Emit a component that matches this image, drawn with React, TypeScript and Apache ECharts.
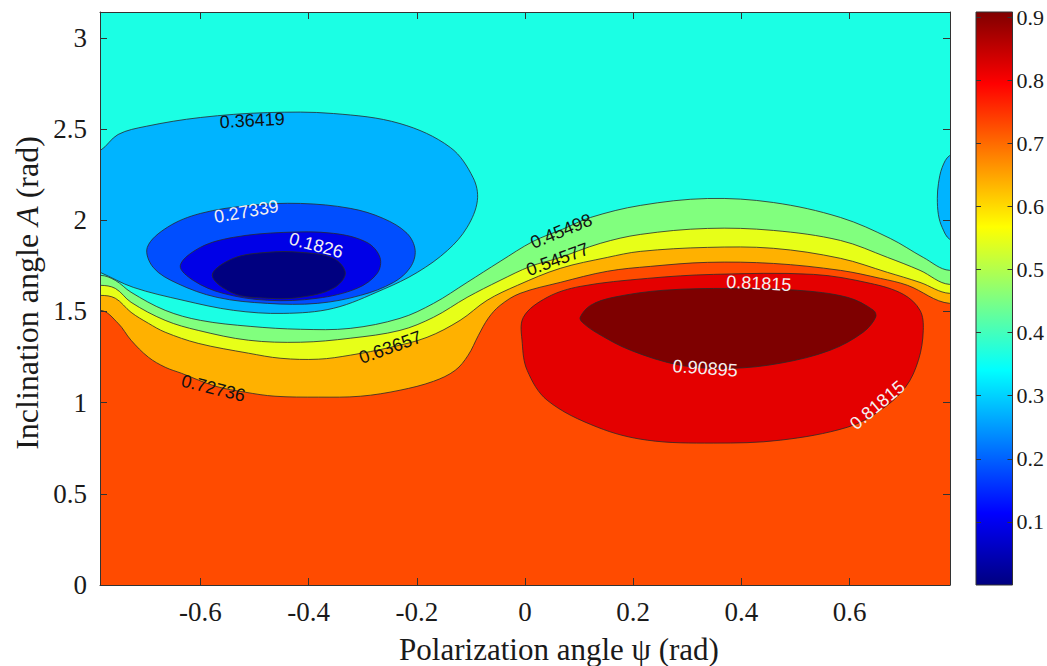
import { useEffect, useRef } from "react";
import * as echarts from "echarts";

// ---- axes ----
const PSI_MIN = -Math.PI / 4;
const PSI_MAX = Math.PI / 4;
const INC_MIN = 0;
const INC_MAX = Math.PI;
const psiTicks = [-0.6, -0.4, -0.2, 0, 0.2, 0.4, 0.6];
const incTicks = [0, 0.5, 1, 1.5, 2, 2.5, 3];
const colorbarTicks = [0.1, 0.2, 0.3, 0.4, 0.5, 0.6, 0.7, 0.8, 0.9];
const colorMin = 0;
const colorMax = 0.908;

// ---- contour levels ----
const levels = [0, 0.0918, 0.1826, 0.27339, 0.36419, 0.45498, 0.54577, 0.63657, 0.72736, 0.81815, 0.90895];

// ---- contour lines spanning the plot, [psi, inclination] ----
const line72736 = [[-0.785,1.506],[-0.752,1.435],[-0.728,1.342],[-0.696,1.249],[-0.665,1.194],[-0.635,1.161],[-0.572,1.090],[-0.517,1.057],[-0.462,1.035],[-0.382,1.030],[-0.304,1.035],[-0.231,1.068],[-0.169,1.117],[-0.129,1.177],[-0.105,1.260],[-0.086,1.369],[-0.068,1.462],[-0.046,1.533],[-0.009,1.599],[0.065,1.659],[0.152,1.720],[0.232,1.747],[0.337,1.769],[0.459,1.763],[0.583,1.725],[0.657,1.681],[0.707,1.643],[0.785,1.544]];
const line63657 = [[-0.785,1.588],[-0.757,1.572],[-0.728,1.495],[-0.696,1.435],[-0.665,1.386],[-0.604,1.325],[-0.511,1.271],[-0.451,1.243],[-0.382,1.238],[-0.323,1.260],[-0.249,1.303],[-0.181,1.358],[-0.120,1.451],[-0.070,1.561],[-0.014,1.643],[0.065,1.736],[0.152,1.796],[0.213,1.829],[0.337,1.851],[0.459,1.846],[0.583,1.791],[0.670,1.714],[0.730,1.659],[0.785,1.599]];
const line54577 = [[-0.785,1.643],[-0.757,1.626],[-0.728,1.550],[-0.665,1.451],[-0.604,1.396],[-0.511,1.342],[-0.415,1.331],[-0.323,1.353],[-0.231,1.396],[-0.169,1.468],[-0.107,1.577],[-0.046,1.670],[0.010,1.747],[0.060,1.791],[0.139,1.873],[0.213,1.922],[0.337,1.955],[0.459,1.944],[0.583,1.889],[0.670,1.796],[0.730,1.725],[0.785,1.648]];
const line45498 = [[-0.785,1.698],[-0.757,1.670],[-0.728,1.605],[-0.665,1.506],[-0.600,1.451],[-0.508,1.418],[-0.415,1.402],[-0.323,1.407],[-0.231,1.462],[-0.169,1.544],[-0.107,1.659],[-0.046,1.774],[0.015,1.884],[0.069,1.950],[0.121,2.015],[0.213,2.081],[0.337,2.119],[0.459,2.097],[0.583,2.015],[0.675,1.900],[0.736,1.796],[0.785,1.725]];

// ---- closed contours (blobs) ----
const blob36419Left = [[-0.785,1.714],[-0.724,1.632],[-0.632,1.561],[-0.539,1.506],[-0.447,1.489],[-0.354,1.517],[-0.262,1.621],[-0.199,1.714],[-0.143,1.835],[-0.107,1.961],[-0.088,2.108],[-0.096,2.234],[-0.138,2.399],[-0.231,2.530],[-0.354,2.585],[-0.476,2.590],[-0.600,2.563],[-0.700,2.515],[-0.752,2.470],[-0.785,2.382]];
const blob36419Right = [[0.785,2.355],[0.771,2.290],[0.764,2.200],[0.762,2.120],[0.764,2.030],[0.771,1.960],[0.785,1.895]];
const blob27339 = [[-0.698,1.851],[-0.661,1.961],[-0.600,2.037],[-0.508,2.081],[-0.415,2.092],[-0.323,2.065],[-0.262,2.010],[-0.218,1.928],[-0.203,1.835],[-0.212,1.741],[-0.243,1.659],[-0.304,1.588],[-0.384,1.544],[-0.476,1.544],[-0.569,1.577],[-0.643,1.654],[-0.687,1.741]];
const blob1826 = [[-0.637,1.752],[-0.600,1.851],[-0.539,1.906],[-0.447,1.933],[-0.354,1.928],[-0.292,1.878],[-0.268,1.796],[-0.273,1.709],[-0.310,1.627],[-0.384,1.572],[-0.476,1.561],[-0.558,1.599],[-0.613,1.670]];
const blob0918 = [[-0.578,1.698],[-0.539,1.791],[-0.476,1.824],[-0.415,1.824],[-0.354,1.791],[-0.332,1.709],[-0.354,1.627],[-0.415,1.577],[-0.476,1.572],[-0.539,1.599]];
const blob81815 = [[-0.003,1.468],[0.041,1.577],[0.102,1.637],[0.226,1.681],[0.348,1.703],[0.533,1.703],[0.638,1.654],[0.699,1.594],[0.730,1.506],[0.736,1.396],[0.727,1.232],[0.703,1.084],[0.657,0.958],[0.596,0.865],[0.472,0.794],[0.348,0.778],[0.226,0.794],[0.134,0.865],[0.041,1.013],[0.004,1.177],[-0.005,1.325]];
const blob90895 = [[0.102,1.468],[0.121,1.533],[0.163,1.577],[0.256,1.616],[0.380,1.626],[0.503,1.616],[0.596,1.577],[0.644,1.506],[0.648,1.468],[0.625,1.386],[0.564,1.287],[0.472,1.216],[0.380,1.188],[0.287,1.205],[0.195,1.287],[0.134,1.380],[0.106,1.440]];

// ---- contour labels ----
const labelText = ["0.36419", "0.27339", "0.1826", "0.45498", "0.54577", "0.63657", "0.72736", "0.81815", "0.90895", "0.81815"];
const labelPsi = [-0.504, -0.515, -0.386, 0.067, 0.060, -0.249, -0.576, 0.432, 0.333, 0.651];
const labelInc = [2.547, 2.048, 1.862, 1.940, 1.785, 1.303, 1.079, 1.654, 1.188, 0.986];

// layout / style for labels
const labelAngle = [3, 10, -15, 22, 20, 20, -14, -3, -4, 40];
const labelLight = [false, true, true, false, false, false, false, true, true, true];

function jet(t: number): string {
  const c = (v: number) => Math.round(255 * Math.max(0, Math.min(1, v)));
  return `rgb(${c(1.5 - Math.abs(4 * t - 3))},${c(1.5 - Math.abs(4 * t - 2))},${c(1.5 - Math.abs(4 * t - 1))})`;
}
const bandColor = (lower: number) => jet((lower - colorMin) / (colorMax - colorMin));

const PADX = 0.3;
const PADY = 0.5;
function above(line: number[][]) {
  const first = line[0];
  const last = line[line.length - 1];
  return [
    ...line,
    [PSI_MAX + PADX, last[1]],
    [PSI_MAX + PADX, INC_MAX + PADY],
    [PSI_MIN - PADX, INC_MAX + PADY],
    [PSI_MIN - PADX, first[1]],
  ];
}
// close an edge-touching blob outside the plot, continuing its direction
function closeOutside(blob: number[][], edge: number, dir: number) {
  const first = blob[0];
  const last = blob[blob.length - 1];
  return [
    ...blob,
    [edge + dir * 0.05, last[1] - 0.06],
    [edge + dir * 0.12, (first[1] + last[1]) / 2],
    [edge + dir * 0.05, first[1] + 0.06],
  ];
}

type Region = { points: number[][]; lower: number; stroke: boolean; smooth: number };
const regions: Region[] = [
  {
    points: [
      [PSI_MIN - PADX, INC_MIN - PADY],
      [PSI_MAX + PADX, INC_MIN - PADY],
      [PSI_MAX + PADX, INC_MAX + PADY],
      [PSI_MIN - PADX, INC_MAX + PADY],
    ],
    lower: levels[8],
    stroke: false,
    smooth: 0,
  },
  { points: above(line72736), lower: levels[7], stroke: true, smooth: 0.35 },
  { points: above(line63657), lower: levels[6], stroke: true, smooth: 0.35 },
  { points: above(line54577), lower: levels[5], stroke: true, smooth: 0.35 },
  { points: above(line45498), lower: levels[4], stroke: true, smooth: 0.35 },
  { points: closeOutside(blob36419Left, PSI_MIN, -1), lower: levels[3], stroke: true, smooth: 0.35 },
  { points: closeOutside(blob36419Right, PSI_MAX, 1), lower: levels[3], stroke: true, smooth: 0.35 },
  { points: blob27339, lower: levels[2], stroke: true, smooth: 0.35 },
  { points: blob1826, lower: levels[1], stroke: true, smooth: 0.35 },
  { points: blob0918, lower: levels[0], stroke: true, smooth: 0.35 },
  { points: blob81815, lower: levels[9], stroke: true, smooth: 0.35 },
  { points: blob90895, lower: levels[10], stroke: true, smooth: 0.35 },
];

const SERIF = "Liberation Serif";
const SANS = "Liberation Sans";
const INK = "#1a1a1a";

export default function App() {
  const ref = useRef<HTMLDivElement>(null);
  useEffect(() => {
    if (!ref.current) return;
    const chart = echarts.init(ref.current, null, { renderer: "svg" });

    const stops = [];
    for (let i = 0; i <= 8; i++) stops.push({ offset: i / 8, color: jet(i / 8) });

    const boxAxisLine = { show: true, onZero: false, lineStyle: { color: "#333", width: 1 } };
    const noLine = { show: false, onZero: false };
    const tick = (vals: number[], len: number) => ({
      show: true, inside: true, length: len, customValues: vals, lineStyle: { color: "#333", width: 1 },
    });

    const option: any = {
      animation: false,
      backgroundColor: "#ffffff",
      grid: [
        { left: 100, right: 97, top: 12, bottom: 81 },
        { left: 976, width: 37, top: 12, bottom: 81 },
      ],
      xAxis: [
        {
          gridIndex: 0, type: "value", min: PSI_MIN, max: PSI_MAX, position: "bottom", z: 10,
          axisLine: boxAxisLine,
          axisTick: tick(psiTicks, 7),
          axisLabel: { customValues: psiTicks, fontFamily: SERIF, fontSize: 27, color: INK, margin: 13 },
          splitLine: { show: false },
        },
        {
          gridIndex: 0, type: "value", min: PSI_MIN, max: PSI_MAX, position: "top", z: 10,
          axisLine: boxAxisLine,
          axisTick: tick(psiTicks, 7),
          axisLabel: { show: false },
          splitLine: { show: false },
        },
        { gridIndex: 1, type: "value", min: 0, max: 1, show: false, axisLine: noLine },
      ],
      yAxis: [
        {
          gridIndex: 0, type: "value", min: INC_MIN, max: INC_MAX, position: "left", z: 10,
          axisLine: boxAxisLine,
          axisTick: tick(incTicks, 7),
          axisLabel: { customValues: incTicks, fontFamily: SERIF, fontSize: 27, color: INK, margin: 13 },
          splitLine: { show: false },
        },
        {
          gridIndex: 0, type: "value", min: INC_MIN, max: INC_MAX, position: "right", z: 10,
          axisLine: boxAxisLine,
          axisTick: tick(incTicks, 7),
          axisLabel: { show: false },
          splitLine: { show: false },
        },
        {
          gridIndex: 1, type: "value", min: colorMin, max: colorMax, position: "right", z: 10,
          axisLine: noLine,
          axisTick: tick(colorbarTicks, 5),
          axisLabel: { customValues: colorbarTicks, fontFamily: SERIF, fontSize: 22, color: INK, margin: 4 },
          splitLine: { show: false },
        },
        {
          gridIndex: 1, type: "value", min: colorMin, max: colorMax, position: "left", z: 10,
          axisLine: noLine,
          axisTick: tick(colorbarTicks, 5),
          axisLabel: { show: false },
          splitLine: { show: false },
        },
      ],
      series: [
        {
          type: "custom",
          xAxisIndex: 0,
          yAxisIndex: 0,
          clip: true,
          silent: true,
          z: 1,
          data: regions.map((r) => r.points[0]),
          encode: { x: 0, y: 1 },
          renderItem: (params: any, api: any) => {
            const reg = regions[params.dataIndex];
            const pts = reg.points.map((p) => api.coord(p));
            return {
              type: "polygon",
              shape: { points: pts, smooth: reg.smooth },
              style: {
                fill: bandColor(reg.lower),
                stroke: reg.stroke ? "#2a2a2a" : "none",
                lineWidth: 0.8,
              },
            };
          },
        },
        {
          type: "custom",
          xAxisIndex: 0,
          yAxisIndex: 0,
          silent: true,
          z: 3,
          data: labelPsi.map((p, i) => [p, labelInc[i]]),
          encode: { x: 0, y: 1 },
          renderItem: (params: any, api: any) => {
            const i = params.dataIndex;
            const pt = api.coord([api.value(0), api.value(1)]);
            return {
              type: "text",
              x: pt[0],
              y: pt[1],
              rotation: (labelAngle[i] * Math.PI) / 180,
              style: {
                text: labelText[i],
                fontFamily: SANS,
                fontSize: 18,
                fill: labelLight[i] ? "#f4f0f0" : "#111111",
                align: "center",
                verticalAlign: "middle",
              },
            };
          },
        },
        {
          type: "custom",
          xAxisIndex: 2,
          yAxisIndex: 2,
          silent: true,
          z: 1,
          data: [[0, colorMin]],
          encode: { x: 0, y: 1 },
          renderItem: (params: any, api: any) => {
            const p0 = api.coord([0, colorMin]);
            const p1 = api.coord([1, colorMax]);
            return {
              type: "rect",
              shape: { x: p0[0], y: p1[1], width: p1[0] - p0[0], height: p0[1] - p1[1] },
              style: {
                fill: new echarts.graphic.LinearGradient(0, 1, 0, 0, stops),
                stroke: "#333",
                lineWidth: 1,
              },
            };
          },
        },
      ],
      graphic: [
        {
          type: "text",
          x: 559,
          y: 649,
          style: {
            text: "Polarization angle ψ (rad)",
            fontFamily: SERIF,
            fontSize: 31,
            fill: INK,
            align: "center",
            verticalAlign: "middle",
          },
        },
        {
          type: "text",
          x: 27,
          y: 293,
          rotation: Math.PI / 2,
          style: {
            text: "Inclination angle {i|A} (rad)",
            fontFamily: SERIF,
            fontSize: 32,
            fill: INK,
            align: "center",
            verticalAlign: "middle",
            rich: { i: { fontFamily: SERIF, fontSize: 32, fontStyle: "italic", fill: INK } },
          },
        },
      ],
    };
    chart.setOption(option);
    return () => chart.dispose();
  }, []);
  return <div ref={ref} style={{ position: "fixed", left: 0, top: 0, width: 1047, height: 666 }} />;
}
